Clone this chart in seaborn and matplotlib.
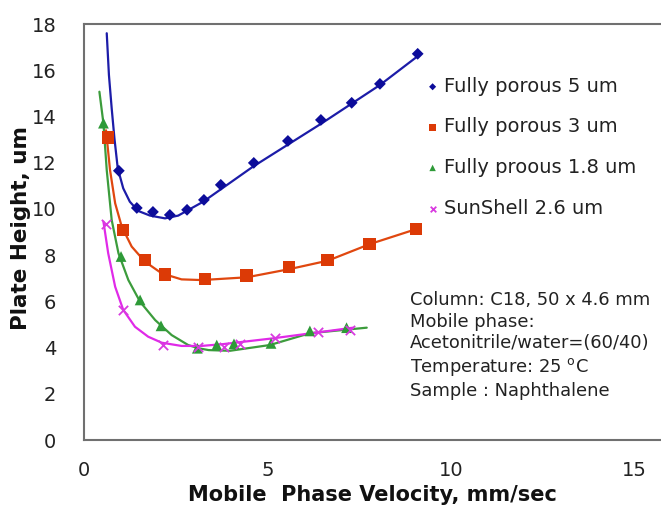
import numpy as np
import pandas as pd
import matplotlib
matplotlib.use("Agg")
import matplotlib.pyplot as plt
import seaborn as sns

# ---- measured points ----
fp5_x = [0.95, 1.44, 1.88, 2.34, 2.81, 3.27, 3.73, 4.63, 5.56, 6.46, 7.30, 8.07, 9.10]
fp5_y = [11.65, 10.04, 9.87, 9.74, 9.96, 10.39, 11.04, 11.99, 12.94, 13.85, 14.59, 15.41, 16.71]

fp3_x = [0.65, 1.07, 1.66, 2.21, 3.30, 4.43, 5.59, 6.64, 7.79, 9.05]
fp3_y = [13.09, 9.09, 7.79, 7.17, 6.97, 7.11, 7.48, 7.78, 8.48, 9.12]

fp18_x = [0.53, 1.01, 1.53, 2.10, 3.09, 3.62, 4.09, 5.10, 6.16, 7.16]
fp18_y = [13.71, 7.94, 6.06, 4.94, 3.97, 4.11, 4.16, 4.18, 4.72, 4.86]

ss_x = [0.59, 1.07, 2.16, 3.12, 3.81, 4.25, 5.20, 6.38, 7.25]
ss_y = [9.35, 5.63, 4.11, 4.04, 4.04, 4.16, 4.40, 4.69, 4.76]

# ---- fitted curves ----
fp5_cx = [0.62, 0.68, 0.755, 0.83, 0.92, 1.07, 1.25, 1.48, 1.80, 2.21, 2.57, 3.25, 4.61, 6.48, 8.07, 9.11]
fp5_cy = [17.60, 15.79, 14.35, 13.05, 11.76, 10.89, 10.31, 9.91, 9.71, 9.59, 9.71, 10.31, 11.83, 13.70, 15.36, 16.62]

fp3_cx = [0.60, 0.71, 0.85, 1.03, 1.30, 1.66, 2.12, 2.66, 3.21, 4.44, 5.59, 6.65, 7.80, 9.05]
fp3_cy = [13.40, 11.68, 10.24, 9.23, 8.37, 7.72, 7.21, 6.95, 6.92, 7.04, 7.39, 7.76, 8.48, 9.12]

fp18_cx = [0.42, 0.53, 0.62, 0.755, 0.94, 1.21, 1.53, 1.94, 2.39, 2.84, 3.12, 3.40, 3.98, 5.07, 6.16, 7.71]
fp18_cy = [15.07, 13.70, 11.68, 9.52, 8.08, 6.92, 5.98, 5.19, 4.54, 4.11, 3.97, 3.89, 3.86, 4.11, 4.62, 4.86]

ss_cx = [0.53, 0.66, 0.85, 1.07, 1.39, 1.75, 2.12, 2.66, 3.20, 3.80, 5.16, 7.34]
ss_cy = [9.45, 8.08, 6.63, 5.63, 4.90, 4.47, 4.21, 4.07, 4.07, 4.15, 4.40, 4.86]

labels = ["Fully porous 5 um", "Fully porous 3 um", "Fully proous 1.8 um", "SunShell 2.6 um"]
x_ticks = [0, 5, 10, 15]
y_ticks = [0, 2, 4, 6, 8, 10, 12, 14, 16, 18]

sns.set_style("white")
FONT = "DejaVu Sans"
plt.rcParams["font.family"] = [FONT]
plt.rcParams["mathtext.fontset"] = "dejavusans"

fig = plt.figure(figsize=(6.61, 5.12), dpi=100)
ax = fig.add_axes([84/661, 72/512, 1 - 84/661, (440-24)/512])

line_colors = ["#1c1ca8", "#e0470f", "#3c9c3c", "#e02ae8"]
mark_colors = ["#0c0c9a", "#dc3a06", "#2e9a38", "#d83ae0"]
markers = ["D", "s", "^", "x"]
msizes = [36, 80, 60, 45]

series = [(fp5_x, fp5_y, fp5_cx, fp5_cy), (fp3_x, fp3_y, fp3_cx, fp3_cy),
          (fp18_x, fp18_y, fp18_cx, fp18_cy), (ss_x, ss_y, ss_cx, ss_cy)]

for i, (px, py, cx, cy) in enumerate(series):
    cdf = pd.DataFrame({"x": cx, "y": cy})
    sns.lineplot(data=cdf, x="x", y="y", ax=ax, color=line_colors[i], lw=1.6,
                 sort=False, estimator=None, legend=False)
for i, (px, py, cx, cy) in enumerate(series):
    pdf = pd.DataFrame({"x": px, "y": py})
    kw = dict(edgecolor="none") if markers[i] != "x" else dict(linewidth=1.3)
    sns.scatterplot(data=pdf, x="x", y="y", ax=ax, color=mark_colors[i], marker=markers[i],
                    s=msizes[i], label=labels[i], zorder=3, **kw)

ax.set_xlim(0, 577/36.67)
ax.set_ylim(0, 18)
ax.set_xticks(x_ticks)
ax.set_yticks(y_ticks)
ax.set_xticklabels([str(t) for t in x_ticks])
ax.set_yticklabels([str(t) for t in y_ticks])

for s in ["left", "bottom", "top"]:
    ax.spines[s].set_color("#707070")
    ax.spines[s].set_linewidth(1.5)
ax.spines["right"].set_visible(False)
ax.tick_params(axis="both", direction="out", length=7, width=1.2, color="#707070",
               labelsize=14, labelcolor="#222222")
ax.tick_params(axis="y", pad=13)
ax.tick_params(axis="x", pad=8)

ax.set_xlabel("Mobile  Phase Velocity, mm/sec", fontsize=15, fontweight="bold", color="#111111", labelpad=4)
ax.set_ylabel("Plate Height, um", fontsize=15.5, fontweight="bold", color="#111111")
ax.yaxis.set_label_coords(-0.092, 0.51)

leg = ax.legend(loc="upper left", bbox_to_anchor=(0.557, 0.915), frameon=False, fontsize=14,
                labelspacing=1.11, handletextpad=0.1, markerscale=0.6, handlelength=1.0,
                labelcolor="#222222")

ax.text(0.565, 0.358, "Column: C18, 50 x 4.6 mm\nMobile phase:\nAcetonitrile/water=(60/40)\nTemperature: 25 $^{\\rm o}$C\nSample : Naphthalene",
        transform=ax.transAxes, fontsize=12.9, color="#222222", va="top", ha="left", linespacing=1.25)

fig.savefig("out.png", dpi=100)
